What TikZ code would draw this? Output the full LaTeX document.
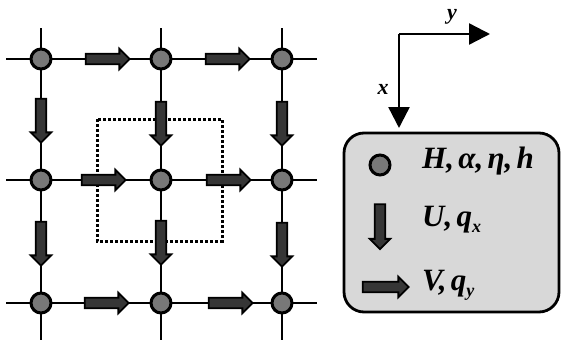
\documentclass[tikz,border=0pt]{standalone}
\usepackage{fontspec}
\setmainfont{Liberation Serif}
\usetikzlibrary{shapes.arrows,arrows.meta}
\definecolor{nodegrey}{HTML}{787878}
\definecolor{flowgrey}{HTML}{363636}
\definecolor{panelgrey}{HTML}{D8D8D8}
\tikzset{
  gridline/.style={line width=2.6pt},
  cell/.style={circle, draw=black, line width=3pt, fill=nodegrey, minimum size=20pt, inner sep=0pt},
  hflow/.style={single arrow, draw=black, fill=flowgrey, line width=1.8pt, inner sep=4.4pt,
    minimum height=44pt, single arrow head extend=5pt, single arrow tip angle=90},
  vflow/.style={hflow, rotate=-90},
  lbl/.style={font=\bfseries\itshape\fontsize{31}{31}\selectfont, anchor=west, inner sep=0pt},
  axislbl/.style={font=\bfseries\itshape\fontsize{22}{22}\selectfont, inner sep=0pt},
  axis/.style={line width=2.4pt, -{Triangle[length=21pt, width=21pt]}},
}
\newcommand{\sub}[1]{\raisebox{-0.4ex}{\fontsize{18}{18}\selectfont #1}}
\newcommand{\gap}{\hspace{0.14em}}
\begin{document}
\begin{tikzpicture}[x=1pt, y=-1pt]
  \useasboundingbox (0,0) rectangle (561,340);

  % staggered grid: lines
  \foreach \c in {41,161,282} \draw[gridline] (\c,28) -- (\c,340);
  \foreach \r in {59,180,303} \draw[gridline] (6,\r) -- (317,\r);

  % control volume around the centre cell
  \draw[line width=3pt, dash pattern=on 3pt off 2pt] (97,119) rectangle (222,241);

  % cell centres
  \foreach \c/\i in {41/1,161/2,282/3}
    \foreach \r/\j in {59/1,180/2,303/3}
      \node[cell] (n\i\j) at (\c,\r) {};

  % y-direction fluxes
  \node[hflow] (v11) at (105,59) {};
  \node[hflow] (v21) at (225,59) {};
  \node[hflow] (v12) at (101,180) {};
  \node[hflow] (v22) at (226,180) {};
  \node[hflow] (v13) at (104,303) {};
  \node[hflow] (v23) at (228,303) {};

  % x-direction fluxes
  \node[vflow] (u11) at (41,118) {};
  \node[vflow] (u21) at (161,121) {};
  \node[vflow] (u31) at (282,121) {};
  \node[vflow] (u12) at (41,241) {};
  \node[vflow] (u22) at (161,240) {};
  \node[vflow] (u32) at (282,242) {};

  % axes
  \coordinate (o) at (399,34);
  \coordinate (ey) at (490,34);
  \coordinate (ex) at (399,128);
  \draw[axis] (o) -- (ey);
  \draw[axis] (o) -- (ex);
  \node[axislbl] (ylab) at (452,17) {y};
  \node[axislbl] (xlab) at (383,89) {x};

  % legend panel
  \draw[line width=2.8pt, fill=panelgrey, rounded corners=20pt] (344,133) rectangle (559,312);
  \node[cell, minimum size=20pt] (k1) at (380,165) {};
  \node[lbl] (t1) at (422,161) {H,\gap α,\gap η,\gap h};
  \node[hflow, rotate=-90, minimum height=45pt] (k2) at (380,224) {};
  \node[lbl] (t2) at (422,220) {U,\gap q\sub{x}};
  \node[hflow, minimum height=46pt] (k3) at (383,287) {};
  \node[lbl] (t3) at (422,285) {V,\gap q\sub{y}};
\end{tikzpicture}
\end{document}
